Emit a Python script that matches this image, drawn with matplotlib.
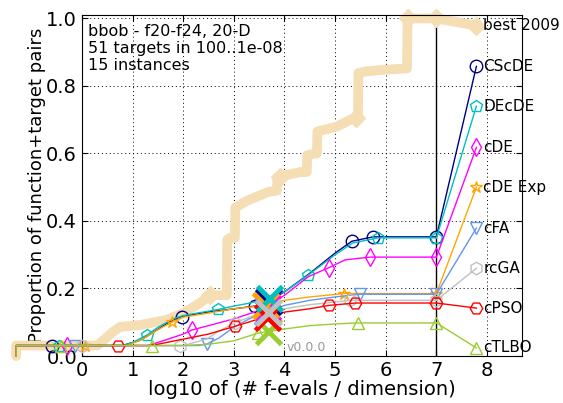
import numpy as np
import matplotlib
matplotlib.use('Agg')
import matplotlib.pyplot as plt

# ECDF of (function, target) pairs vs log10(#f-evals / dimension)
algs = ['CScDE', 'DEcDE', 'cDE', 'cDE Exp', 'cFA', 'rcGA', 'cPSO', 'cTLBO']
colors = ['#000080', '#00bfbf', '#ff00ff', '#ffa500', '#6495ed', '#c0c0c0', '#ff0000', '#9acd32']
markers = ['o', 'p', 'd', '*', 'v', 'h', 'H', '^']

best_x = [-1.3, -1.3, 0.3, 0.45, 0.6, 0.75, 1.15, 1.67, 2.0, 2.33, 2.53, 2.86, 2.87, 2.92, 3.02,
          3.03, 3.26, 3.68, 3.85, 3.86, 4.31, 4.44, 4.45, 4.6, 4.64, 4.65, 5.04, 5.3, 5.45, 5.46,
          5.6, 5.89, 6.42, 6.43, 7.0]
best_y = [0.0, 0.031, 0.031, 0.05, 0.07, 0.086, 0.092, 0.107, 0.127, 0.157, 0.18, 0.18, 0.344, 0.35, 0.35,
          0.44, 0.46, 0.486, 0.49, 0.53, 0.545, 0.545, 0.595, 0.6, 0.6, 0.665, 0.68, 0.7, 0.705, 0.838,
          0.843, 0.847, 0.852, 1.0, 1.0]
best_marks = [2.53, 3.91, 5.42, 6.44, 7.0]

curve_x = [
    [-1.3, -1.3, 0.8, 1.0, 1.15, 1.3, 1.54, 1.8, 1.97, 2.47, 3.12, 3.42, 3.7, 4.0, 4.5, 5.0, 5.33, 5.75, 7.0],
    [-1.3, -1.3, 0.8, 1.0, 1.28, 1.5, 1.8, 2.0, 2.5, 2.69, 3.0, 3.32, 3.7, 4.0, 4.47, 5.0, 5.35, 5.85, 7.0],
    [-1.3, -1.3, 1.3, 1.6, 2.0, 2.17, 2.5, 3.0, 3.5, 3.7, 4.0, 4.47, 4.88, 5.2, 5.69, 7.0],
    [-1.3, -1.3, 0.9, 1.2, 1.5, 1.77, 2.0, 2.5, 3.0, 3.5, 4.0, 4.5, 5.17, 7.0],
    [-1.3, -1.3, 2.3, 2.46, 2.7, 3.0, 3.3, 3.6, 4.0, 4.5, 5.0, 5.49, 7.0],
    [-1.3, -1.3, 2.0, 2.46, 2.72, 3.02, 3.3, 3.6, 4.0, 4.5, 5.0, 5.3, 7.0],
    [-1.3, -1.3, 1.3, 1.5, 2.0, 2.5, 3.02, 3.5, 4.0, 4.5, 4.88, 5.4, 7.0],
    [-1.3, -1.3, 2.0, 2.5, 3.0, 3.48, 4.0, 4.5, 5.0, 5.45, 7.0],
]
curve_y = [
    [0.0, 0.031, 0.031, 0.04, 0.047, 0.06, 0.083, 0.107, 0.117, 0.13, 0.142, 0.148, 0.165, 0.19, 0.245, 0.305, 0.34, 0.353, 0.353],
    [0.0, 0.031, 0.031, 0.04, 0.062, 0.085, 0.11, 0.12, 0.133, 0.138, 0.148, 0.157, 0.172, 0.19, 0.24, 0.3, 0.335, 0.35, 0.35],
    [0.0, 0.031, 0.031, 0.045, 0.065, 0.077, 0.09, 0.11, 0.135, 0.15, 0.18, 0.235, 0.262, 0.285, 0.293, 0.293],
    [0.0, 0.031, 0.031, 0.05, 0.078, 0.1, 0.115, 0.127, 0.14, 0.148, 0.165, 0.175, 0.185, 0.185],
    [0.0, 0.031, 0.031, 0.035, 0.053, 0.085, 0.11, 0.128, 0.15, 0.165, 0.175, 0.183, 0.183],
    [0.0, 0.031, 0.031, 0.05, 0.075, 0.098, 0.115, 0.128, 0.14, 0.152, 0.16, 0.165, 0.165],
    [0.0, 0.031, 0.031, 0.035, 0.05, 0.065, 0.088, 0.11, 0.13, 0.14, 0.15, 0.157, 0.157],
    [0.0, 0.031, 0.031, 0.035, 0.045, 0.068, 0.08, 0.09, 0.095, 0.098, 0.098],
]
mark_x = [
    [-0.6, 1.97, 3.42, 5.33, 5.75, 7.0],
    [-0.45, 1.28, 2.69, 4.47, 5.85, 7.0],
    [-0.3, 2.17, 4.88, 5.69, 7.0],
    [0.06, 1.77, 3.6, 5.17, 7.0],
    [-0.13, 2.46, 5.49, 7.0],
    [0.0, 1.93, 3.02, 5.3, 7.0],
    [0.71, 3.02, 4.88, 5.4, 7.0],
    [-0.42, 1.38, 3.48, 5.45, 7.0],
]
# median of maximal evaluations (big crosses)
cross_x = [3.68, 3.7, 3.65, 3.62, 3.65, 3.68, 3.65, 3.68]
cross_z = [3.0, 3.6, 3.2, 3.3, 3.4, 3.9, 3.5, 3.1]

# legend entries placed on the right
label_x = 7.79
best_label_y = 0.979
label_y = [0.858, 0.740, 0.618, 0.500, 0.379, 0.260, 0.142, 0.024]

fig = plt.figure(figsize=(5.63, 4.03), dpi=100)
ax = fig.add_axes([0.1456, 0.1166, 0.7815, 0.846])

ax.plot(best_x, best_y, color='wheat', lw=7, clip_on=False, zorder=2,
        solid_joinstyle='round', solid_capstyle='round')
ax.plot(best_marks, np.interp(best_marks, best_x, best_y), ls='none', marker='D', ms=9,
        color='wheat', mec='wheat', clip_on=False, zorder=2)
ax.plot([7.0, label_x], [1.0, best_label_y], color='wheat', lw=7, marker='D', ms=9,
        markevery=[1], clip_on=False, zorder=2, solid_capstyle='round')
ax.text(label_x + 0.14, best_label_y, 'best 2009', fontsize=11, va='center', clip_on=False)

for i, name in enumerate(algs):
    xs, ys, c, m = curve_x[i], curve_y[i], colors[i], markers[i]
    z = 3 + i * 0.1
    ax.plot(xs, ys, color=c, lw=1, clip_on=False, zorder=z)
    ax.plot(mark_x[i], np.interp(mark_x[i], xs, ys), ls='none', marker=m, ms=9,
            mfc='none', mec=c, mew=1, clip_on=False, zorder=z)
    ax.plot([cross_x[i]], np.interp([cross_x[i]], xs, ys), ls='none', marker='x', ms=18,
            mew=3.5, color=c, clip_on=False, zorder=cross_z[i] + 1)
    ax.plot([7.0, label_x], [ys[-1], label_y[i]], color=c, lw=1, marker=m, ms=9,
            mfc='none', mec=c, markevery=[1], clip_on=False, zorder=z)
    ax.text(label_x + 0.14, label_y[i], name, fontsize=11, va='center', clip_on=False)

ax.axvline(7.0, color='k', lw=1, zorder=1)

ax.set_xlim(0, 8.69)
ax.set_ylim(0, 1.01)
ax.set_xticks(range(0, 9))
ax.set_yticks([0.0, 0.2, 0.4, 0.6, 0.8, 1.0])
ax.set_yticklabels(['0.0', '0.2', '0.4', '0.6', '0.8', '1.0'])
ax.tick_params(direction='in', top=True, right=True, labelsize=14, length=4)
ax.grid(True, ls=(0, (1, 3)), color='k', lw=0.7)
ax.set_xlabel('log10 of (# f-evals / dimension)', fontsize=14, labelpad=0)
ax.set_ylabel('Proportion of function+target pairs', fontsize=13, labelpad=0)

ax.text(0.013, 0.975, 'bbob - f20-f24, 20-D\n51 targets in 100..1e-08\n15 instances',
        transform=ax.transAxes, fontsize=11.5, va='top', ha='left')
ax.text(4.05, 0.024, 'v0.0.0', fontsize=9, color='#999999', va='center')

fig.savefig('out.png', dpi=100)
